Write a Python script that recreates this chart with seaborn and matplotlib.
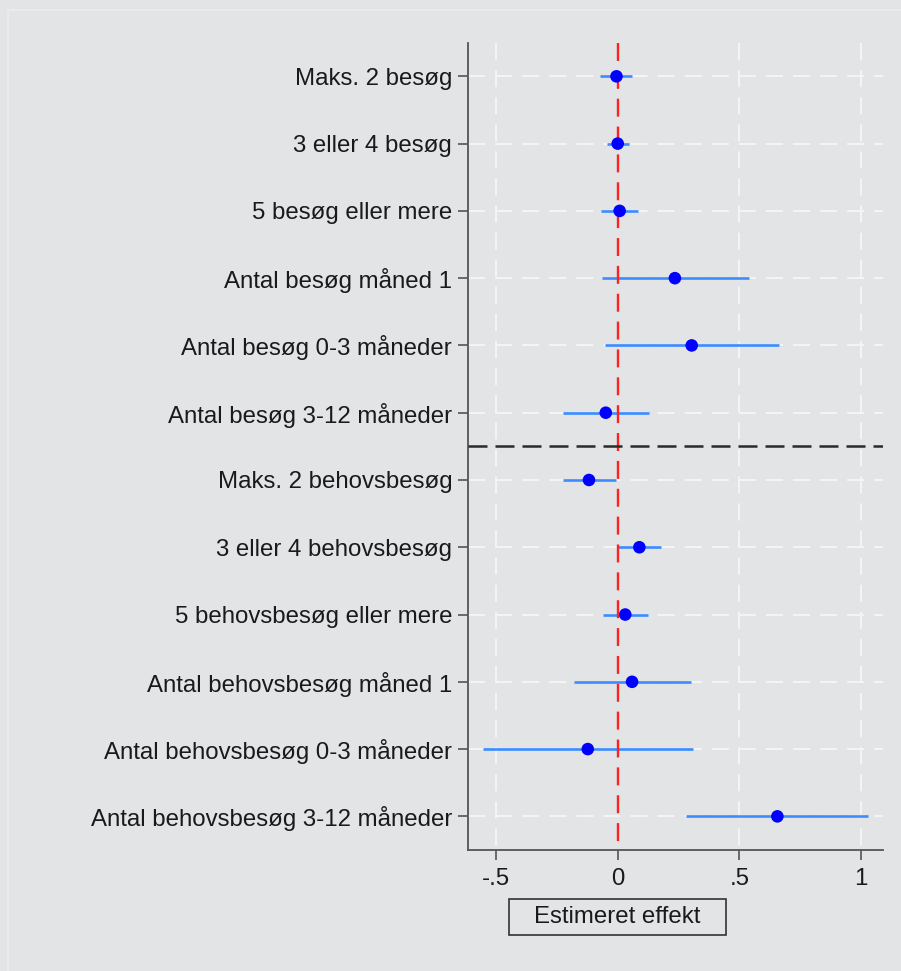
import matplotlib
matplotlib.use("Agg")
import matplotlib.pyplot as plt
import seaborn as sns
import numpy as np
import pandas as pd
from matplotlib.patches import Rectangle

categories = [
    "Maks. 2 besøg",
    "3 eller 4 besøg",
    "5 besøg eller mere",
    "Antal besøg måned 1",
    "Antal besøg 0-3 måneder",
    "Antal besøg 3-12 måneder",
    "Maks. 2 behovsbesøg",
    "3 eller 4 behovsbesøg",
    "5 behovsbesøg eller mere",
    "Antal behovsbesøg måned 1",
    "Antal behovsbesøg 0-3 måneder",
    "Antal behovsbesøg 3-12 måneder",
]
estimate = [-0.005, 0.0, 0.008, 0.235, 0.304, -0.049, -0.118, 0.089, 0.031, 0.059, -0.123, 0.656]
ci_low = [-0.072, -0.045, -0.069, -0.066, -0.052, -0.226, -0.226, 0.0, -0.062, -0.180, -0.555, 0.279]
ci_high = [0.059, 0.046, 0.085, 0.539, 0.664, 0.130, -0.008, 0.178, 0.123, 0.300, 0.310, 1.030]
xticks = [-0.5, 0, 0.5, 1]
xticklabels = ["-.5", "0", ".5", "1"]
xlabel = "Estimeret effekt"

sns.set_theme(style="white")
plt.rcParams["font.family"] = ["Liberation Sans", "DejaVu Sans"]

bg = "#e3e4e6"
W, H = 901, 971
fig = plt.figure(figsize=(W / 100, H / 100), dpi=100, facecolor=bg)
ax = fig.add_axes([467.7 / W, 1 - 850 / H, (883 - 467.7) / W, (850 - 42.7) / H])
ax.set_facecolor(bg)
fig.patches.append(Rectangle((8 / W, -0.01), 1, 1 - 10 / H + 0.01, transform=fig.transFigure,
                             fill=False, edgecolor="#ececed", lw=1.2, zorder=0))

df = pd.DataFrame({"cat": categories, "pos": np.arange(len(categories)),
                   "est": estimate, "lo": ci_low, "hi": ci_high})
ylo, yhi = len(categories) - 0.5, -0.5

# gridlines
for xv in [-0.5, 0.5, 1.0]:
    ax.plot([xv, xv], [yhi, ylo], color="#f4f4f5", lw=1.5, dashes=(8.2, 4.8), zorder=1)
for yv in df["pos"]:
    ax.axhline(yv, color="#f4f4f5", lw=1.5, dashes=(8.2, 4.8), zorder=1)

ax.hlines(df["pos"], df["lo"], df["hi"], color="#3c8cff", lw=1.9, zorder=3)
ax.plot([0, 0], [yhi, ylo], color="#ff2020", lw=1.7, dashes=(7.6, 4.2), zorder=3.5)
sns.scatterplot(data=df, x="est", y="pos", ax=ax, color="#0000ff", s=82,
                edgecolor="none", zorder=4, legend=False)
ax.axhline(5.5, color="#2a2a2a", lw=1.8, dashes=(7.6, 3.2), zorder=5)

ax.set_xlim(-0.6163, 1.090)
ax.set_ylim(ylo, yhi)
ax.set_yticks(df["pos"])
ax.set_yticklabels(categories)
ax.set_xticks(xticks)
ax.set_xticklabels(xticklabels)
ax.set_xlabel("")
ax.set_ylabel("")

for s in ["top", "right"]:
    ax.spines[s].set_visible(False)
for s in ["left", "bottom"]:
    ax.spines[s].set_color("#555555")
    ax.spines[s].set_linewidth(1.3)

ax.tick_params(axis="y", left=True, length=7.2, width=1.2, color="#555555",
               labelsize=17.3, labelcolor="#1a1a1a", pad=4)
ax.tick_params(axis="x", bottom=True, length=7, width=1.2, color="#555555",
               labelsize=17.3, labelcolor="#1a1a1a", pad=6)

fig.patches.append(Rectangle((509 / W, 1 - 935 / H), (726 - 509) / W, 36 / H,
                             transform=fig.transFigure, facecolor=bg,
                             edgecolor="#333333", lw=1.2, zorder=2))
fig.text(617.5 / W, 1 - 917 / H, xlabel, ha="center", va="center",
         fontsize=17.3, color="#1a1a1a", zorder=3)

fig.savefig("out.png", dpi=100, facecolor=bg)
